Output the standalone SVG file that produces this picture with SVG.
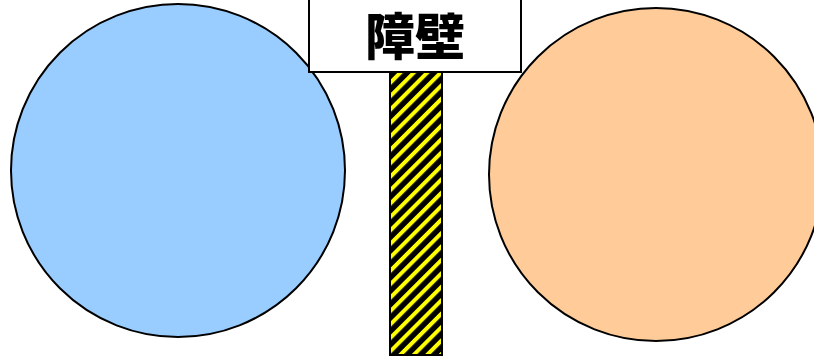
<svg xmlns="http://www.w3.org/2000/svg" width="814" height="357" viewBox="0 0 814 357">
<style>
.c{stroke:#000;stroke-width:2}
.lbl{font-family:"Noto Sans CJK JP","Noto Sans CJK SC",sans-serif;font-weight:900;font-size:50px;fill:#000}
</style>
<defs>
<pattern id="haz" width="9.5" height="9.5" patternUnits="userSpaceOnUse" patternTransform="rotate(45)">
<rect width="9.5" height="9.5" fill="#000"/>
<rect width="4" height="9.5" fill="#ffff00"/>
</pattern>
</defs>
<rect width="814" height="357" fill="#fff"/>
<g id="left-circle"><ellipse class="c" cx="178" cy="170.5" rx="167" ry="166.5" fill="#99ccff"/></g>
<g id="right-circle"><ellipse class="c" cx="656" cy="174.5" rx="167" ry="166.5" fill="#ffcc99"/></g>
<g id="wall"><rect x="390" y="72" width="52" height="283" fill="url(#haz)" stroke="#000" stroke-width="2"/></g>
<g id="label">
<rect x="309" y="-2" width="212" height="74" fill="#fff" stroke="#000" stroke-width="2"/>
<text class="lbl" x="415" y="55" text-anchor="middle">障壁</text>
</g>
</svg>
